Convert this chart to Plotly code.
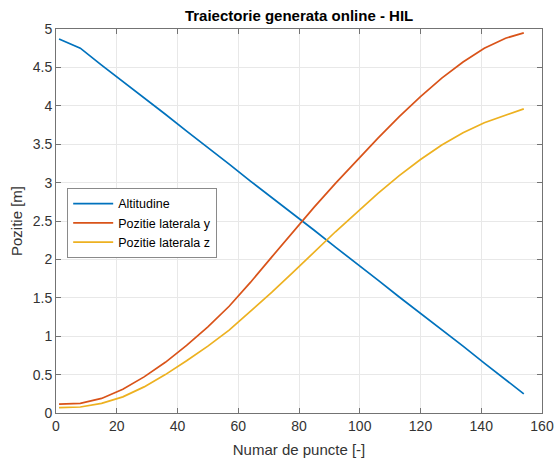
import plotly.graph_objects as go

# Sample index along the generated trajectory
puncte = [1, 8, 15, 22, 29, 36, 43, 50, 57, 64, 71, 78, 85, 92, 99, 106,
          113, 120, 127, 134, 141, 148, 154]

altitudine = [4.87, 4.75, 4.53, 4.32, 4.10, 3.89, 3.67, 3.46, 3.24, 3.02,
              2.81, 2.59, 2.38, 2.16, 1.95, 1.73, 1.51, 1.30, 1.08, 0.87,
              0.65, 0.43, 0.25]

pozitie_y = [0.115, 0.125, 0.19, 0.31, 0.47, 0.66, 0.88, 1.12, 1.39, 1.70,
             2.03, 2.36, 2.68, 2.99, 3.29, 3.58, 3.86, 4.12, 4.36, 4.57,
             4.75, 4.88, 4.95]

pozitie_z = [0.07, 0.078, 0.125, 0.21, 0.34, 0.50, 0.68, 0.87, 1.08, 1.32,
             1.57, 1.83, 2.10, 2.36, 2.61, 2.86, 3.09, 3.30, 3.49, 3.65,
             3.78, 3.88, 3.96]

x_ticks = [0, 20, 40, 60, 80, 100, 120, 140, 160]
y_ticks = [0, 0.5, 1, 1.5, 2, 2.5, 3, 3.5, 4, 4.5, 5]
y_tick_text = ["0", "0.5", "1", "1.5", "2", "2.5", "3", "3.5", "4", "4.5", "5"]

series = [
    ("Altitudine", altitudine, "#0072BD"),
    ("Pozitie laterala y", pozitie_y, "#D95319"),
    ("Pozitie laterala z", pozitie_z, "#EDB120"),
]

fig = go.Figure()
for name, values, color in series:
    fig.add_trace(go.Scatter(
        x=puncte, y=values, mode="lines", name=name,
        line=dict(color=color, width=1.7),
    ))

font_family = "Liberation Sans, Arial, sans-serif"
axis_common = dict(
    showline=True, linecolor="#737373", linewidth=1, mirror="allticks",
    ticks="inside", ticklen=5, tickcolor="#737373",
    showgrid=True, gridcolor="#e8e8e8", gridwidth=1,
    zeroline=False, automargin=False,
    tickfont=dict(family=font_family, size=14, color="#333333"),
)

fig.update_layout(
    width=558, height=459,
    paper_bgcolor="white", plot_bgcolor="white",
    margin=dict(l=56, r=16, t=29, b=46),
    title=dict(
        text="<b>Traiectorie generata online - HIL</b>",
        x=0.536, xanchor="center", y=0.978, yanchor="top",
        font=dict(family=font_family, size=15, color="#000000"),
    ),
    xaxis=dict(
        range=[0, 160], tickvals=x_ticks,
        title=dict(text="Numar de puncte [-]", standoff=11,
                   font=dict(family=font_family, size=15, color="#333333")),
        **axis_common,
    ),
    yaxis=dict(
        range=[0, 5], tickvals=y_ticks, ticktext=y_tick_text,
        title=dict(text="Pozitie [m]", standoff=6,
                   font=dict(family=font_family, size=15, color="#333333")),
        **axis_common,
    ),
    legend=dict(
        x=0.023, y=0.586, xanchor="left", yanchor="top",
        bgcolor="white", bordercolor="#8a8a8a", borderwidth=1,
        font=dict(family=font_family, size=12.5, color="#000000"),
        tracegroupgap=0, itemwidth=40,
    ),
    showlegend=True,
)

fig.write_html("out.html")
